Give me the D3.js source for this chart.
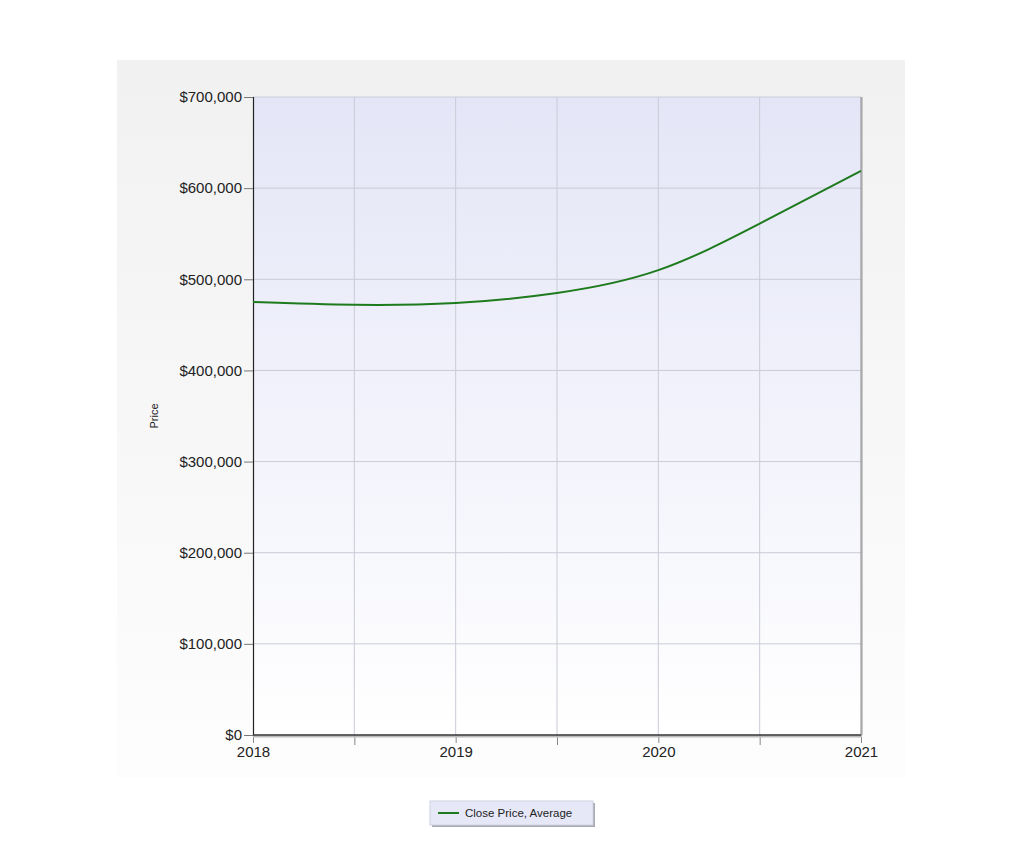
<!DOCTYPE html>
<html>
<head>
<meta charset="utf-8">
<script src="https://cdn.jsdelivr.net/npm/d3@7"></script>
<style>
  body { margin: 0; background: #fff; }
  svg { display: block; font-family: "Liberation Sans", Arial, sans-serif; }
</style>
</head>
<body>
<div id="chart"></div>
<script>
// chart size, same as the browser window
const width = 1024;
const height = 846;
const margin = {left: 253, right: 163, top: 97, bottom: 111};

// data (half-year steps)
const years = [2018, 2018.5, 2019, 2019.5, 2020, 2020.5, 2021];
const prices = [475000, 472000, 474000, 485000, 510000, 561000, 619000];
const seriesName = "Close Price, Average";
const xTicks = [2018, 2019, 2020, 2021];
const xGrid = [2018.5, 2019, 2019.5, 2020, 2020.5];
const yTicks = [0, 100000, 200000, 300000, 400000, 500000, 600000, 700000];

const svg = d3.select("#chart")
  .append("svg")
  .attr("width", width)
  .attr("height", height);

const defs = svg.append("defs");

// outer panel gradient, light grey to white
const outerGrad = defs.append("linearGradient")
  .attr("id", "outerGrad").attr("x1", 0).attr("y1", 0).attr("x2", 0).attr("y2", 1);
outerGrad.append("stop").attr("offset", "0%").attr("stop-color", "#f1f1f1");
outerGrad.append("stop").attr("offset", "100%").attr("stop-color", "#fdfdfd");

// plot area gradient, lavender to white
const plotGrad = defs.append("linearGradient")
  .attr("id", "plotGrad").attr("x1", 0).attr("y1", 0).attr("x2", 0).attr("y2", 1);
plotGrad.append("stop").attr("offset", "0%").attr("stop-color", "#e4e6f7");
plotGrad.append("stop").attr("offset", "100%").attr("stop-color", "#ffffff");

svg.append("rect")
  .attr("x", 117).attr("y", 60)
  .attr("width", 788).attr("height", 718)
  .attr("fill", "url(#outerGrad)");

// scales
const x = d3.scaleLinear()
  .domain([2018, 2021])
  .range([margin.left, width - margin.right]);

const y = d3.scaleLinear()
  .domain([0, 700000])
  .range([height - margin.bottom, margin.top]);

const x0 = x.range()[0], x1 = x.range()[1];
const y0 = y.range()[0], y1 = y.range()[1];

// plot background
svg.append("rect")
  .attr("x", x0).attr("y", y1)
  .attr("width", x1 - x0).attr("height", y0 - y1)
  .attr("fill", "url(#plotGrad)");

// grid lines
svg.append("g")
  .selectAll("line")
  .data(yTicks.slice(1))
  .enter().append("line")
    .attr("x1", x0).attr("x2", x1)
    .attr("y1", d => y(d)).attr("y2", d => y(d))
    .attr("stroke", "#cacbd6").attr("stroke-width", 1);

svg.append("g")
  .selectAll("line")
  .data(xGrid)
  .enter().append("line")
    .attr("x1", d => x(d)).attr("x2", d => x(d))
    .attr("y1", y1).attr("y2", y0)
    .attr("stroke", "#cacbd6").attr("stroke-width", 1);

// right border with soft shadow
svg.append("line")
  .attr("x1", x1 + 1).attr("x2", x1 + 1).attr("y1", y1).attr("y2", y0)
  .attr("stroke", "#c8c8c8").attr("stroke-width", 2);
svg.append("line")
  .attr("x1", x1).attr("x2", x1).attr("y1", y1).attr("y2", y0)
  .attr("stroke", "#8a8a8a").attr("stroke-width", 1);

// y axis
const yAxis = svg.append("g")
  .attr("transform", `translate(${x0},0)`)
  .call(d3.axisLeft(y)
    .tickValues(yTicks)
    .tickSize(9)
    .tickPadding(2)
    .tickFormat(d => "$" + d3.format(",")(d)));
yAxis.select(".domain").attr("stroke", "#222").attr("stroke-width", 1.2);
yAxis.selectAll(".tick line").attr("stroke", "#777");
yAxis.selectAll("text").attr("font-size", "15px").attr("fill", "#222");

// x axis, major year ticks and half-year minor ticks
svg.append("g")
  .attr("transform", `translate(0,${y0})`)
  .call(d3.axisBottom(x).tickValues([2018.5, 2019.5, 2020.5]).tickSize(10).tickFormat(""))
  .call(g => g.select(".domain").remove())
  .selectAll(".tick line").attr("stroke", "#888");

const xAxis = svg.append("g")
  .attr("transform", `translate(0,${y0})`)
  .call(d3.axisBottom(x)
    .tickValues(xTicks)
    .tickSize(8)
    .tickPadding(3)
    .tickFormat(d3.format("d")));
xAxis.select(".domain").remove();
xAxis.selectAll(".tick line").attr("stroke", "#888");
xAxis.selectAll("text").attr("font-size", "15px").attr("fill", "#222");

// bottom axis line with shadow
svg.append("line")
  .attr("x1", x0).attr("x2", x1 + 1).attr("y1", y0 + 1.5).attr("y2", y0 + 1.5)
  .attr("stroke", "#bbbbbb").attr("stroke-width", 2);
svg.append("line")
  .attr("x1", x0).attr("x2", x1).attr("y1", y0).attr("y2", y0)
  .attr("stroke", "#333").attr("stroke-width", 1.5);

// y axis title
svg.append("text")
  .attr("transform", `translate(158,${(y0 + y1) / 2}) rotate(-90)`)
  .attr("text-anchor", "middle")
  .attr("font-size", "11px")
  .attr("fill", "#222")
  .text("Price");

// price line
const line = d3.line()
  .x((d, i) => x(years[i]))
  .y(d => y(d))
  .curve(d3.curveNatural);

svg.append("path")
  .datum(prices)
  .attr("fill", "none")
  .attr("stroke", "#1d7a1d")
  .attr("stroke-width", 2)
  .attr("d", line);

// legend
const legend = svg.append("g").attr("transform", "translate(430,801)");
legend.append("rect")
  .attr("x", 2).attr("y", 2).attr("width", 163).attr("height", 24)
  .attr("fill", "#a8a8b0");
legend.append("rect")
  .attr("width", 163).attr("height", 24)
  .attr("fill", "#e6e8f8").attr("stroke", "#d0d2e0");
legend.append("line")
  .attr("x1", 8).attr("x2", 29).attr("y1", 12).attr("y2", 12)
  .attr("stroke", "#1d7a1d").attr("stroke-width", 2);
legend.append("text")
  .attr("x", 35).attr("y", 16)
  .attr("font-size", "11.5px")
  .attr("fill", "#222")
  .text(seriesName);
</script>
</body>
</html>
